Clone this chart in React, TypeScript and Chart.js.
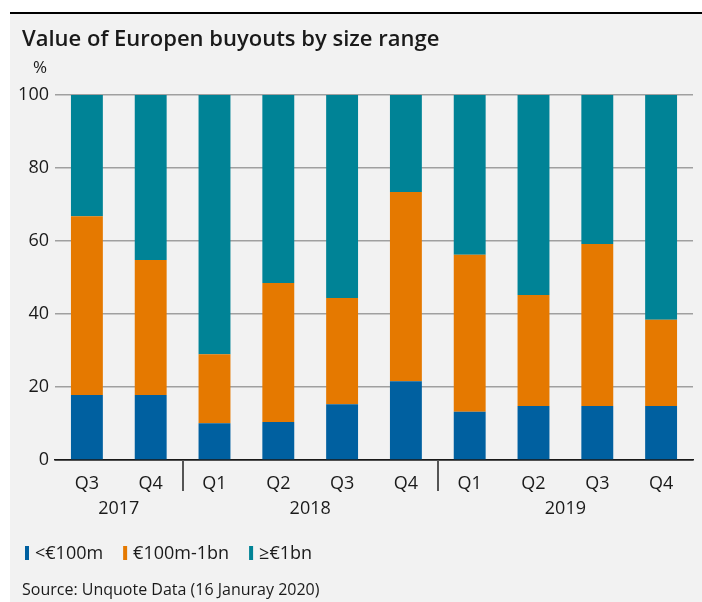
import React, { useEffect, useRef } from "react";
import { Chart, registerables } from "chart.js";

Chart.register(...registerables);

const TITLE = "Value of Europen buyouts by size range";
const UNIT = "%";
const SOURCE = "Source: Unquote Data (16 Januray 2020)";

const quarters = ["Q3", "Q4", "Q1", "Q2", "Q3", "Q4", "Q1", "Q2", "Q3", "Q4"];
const years = ["2017", "2018", "2019"];
const yearSpans = [2, 4, 4];

const seriesNames = ["<€100m", "€100m-1bn", "≥€1bn"];
const small = [17.8, 17.8, 10.1, 10.4, 15.3, 21.6, 13.2, 14.8, 14.8, 14.8];
const mid = [49.0, 37.0, 18.9, 38.1, 29.1, 51.8, 43.0, 30.4, 44.4, 23.6];
const large = [33.2, 45.2, 71.0, 51.5, 55.6, 26.6, 43.8, 54.8, 40.8, 61.6];

const colors = ["#0060a0", "#e57900", "#008396"];

const FONT = '"Open Sans", "Noto Sans", sans-serif';
const TEXT = "#1a1a1a";

const decorPlugin = {
  id: "decor",
  beforeDraw(chart: any) {
    const ctx = chart.ctx;
    ctx.save();
    ctx.fillStyle = "#ffffff";
    ctx.fillRect(0, 0, chart.width, chart.height);
    ctx.fillStyle = "#f2f2f2";
    ctx.fillRect(10, 14, chart.width - 10, chart.height - 14);
    ctx.fillStyle = "#000000";
    ctx.fillRect(10, 12, chart.width - 10, 2);
    ctx.restore();
  },
  afterDraw(chart: any) {
    const ctx = chart.ctx;
    const xs = chart.scales.x;
    const area = chart.chartArea;
    ctx.save();
    // title
    ctx.fillStyle = TEXT;
    ctx.textAlign = "left";
    ctx.textBaseline = "alphabetic";
    ctx.font = `600 22px ${FONT}`;
    ctx.fillText(TITLE, 22, 46);
    // unit
    ctx.font = `17px ${FONT}`;
    ctx.textAlign = "center";
    ctx.fillText(UNIT, 40, 73);
    // years + separators
    ctx.font = `18px ${FONT}`;
    let idx = 0;
    yearSpans.forEach((span, i) => {
      const first = idx;
      const last = idx + span - 1;
      const cx = (xs.getPixelForValue(first) + xs.getPixelForValue(last)) / 2;
      ctx.fillStyle = TEXT;
      ctx.textAlign = "center";
      ctx.fillText(years[i], cx, 514);
      if (i > 0) {
        const sx = (xs.getPixelForValue(first - 1) + xs.getPixelForValue(first)) / 2;
        ctx.strokeStyle = "#555555";
        ctx.lineWidth = 2;
        ctx.beginPath();
        ctx.moveTo(Math.round(sx), area.bottom);
        ctx.lineTo(Math.round(sx), 491);
        ctx.stroke();
      }
      idx += span;
    });
    // legend
    ctx.font = `18px ${FONT}`;
    ctx.textAlign = "left";
    let lx = 25;
    chart.data.datasets.forEach((ds: any) => {
      ctx.fillStyle = ds.backgroundColor;
      ctx.fillRect(lx, 546, 4, 14);
      ctx.fillStyle = TEXT;
      ctx.fillText(ds.label, lx + 10, 559);
      lx += 10 + ctx.measureText(ds.label).width + 20;
    });
    // source
    ctx.font = `16px ${FONT}`;
    ctx.fillText(SOURCE, 22, 595);
    ctx.restore();
  },
};

export default function App() {
  const ref = useRef<HTMLCanvasElement | null>(null);
  useEffect(() => {
    if (!ref.current) return;
    const chart = new Chart(ref.current, {
      type: "bar",
      data: {
        labels: quarters,
        datasets: [small, mid, large].map((d, i) => ({
          label: seriesNames[i],
          data: d,
          backgroundColor: colors[i],
          borderWidth: 0,
          barPercentage: 0.5,
          categoryPercentage: 1.0,
        })),
      },
      options: {
        responsive: false,
        animation: false,
        devicePixelRatio: 1,
        layout: { padding: { left: 0, right: 9, top: 95, bottom: 0 } },
        plugins: {
          legend: { display: false },
          tooltip: { enabled: false },
          title: { display: false },
        },
        scales: {
          x: {
            stacked: true,
            grid: { display: false, drawTicks: false },
            border: { display: true, color: TEXT, width: 1.5 },
            ticks: {
              color: TEXT,
              font: { family: FONT, size: 18 },
              padding: 13,
              maxRotation: 0,
              autoSkip: false,
            },
            afterFit(axis: any) {
              axis.height = 142;
            },
          },
          y: {
            stacked: true,
            min: 0,
            max: 100,
            grid: {
              drawTicks: false,
              lineWidth: 1.5,
              color: (c: any) => (c.tick && c.tick.value === 0 ? TEXT : "#a0a0a0"),
            },
            border: { display: false },
            ticks: {
              stepSize: 20,
              color: TEXT,
              font: { family: FONT, size: 18 },
              padding: 6,
            },
            afterFit(axis: any) {
              axis.width = 55;
            },
          },
        },
      },
      plugins: [decorPlugin],
    });
    return () => chart.destroy();
  }, []);
  return (
    <div style={{ position: "absolute", left: 0, top: 0, width: 702, height: 602 }}>
      <canvas ref={ref} width={702} height={602} style={{ display: "block", width: 702, height: 602 }} />
    </div>
  );
}
